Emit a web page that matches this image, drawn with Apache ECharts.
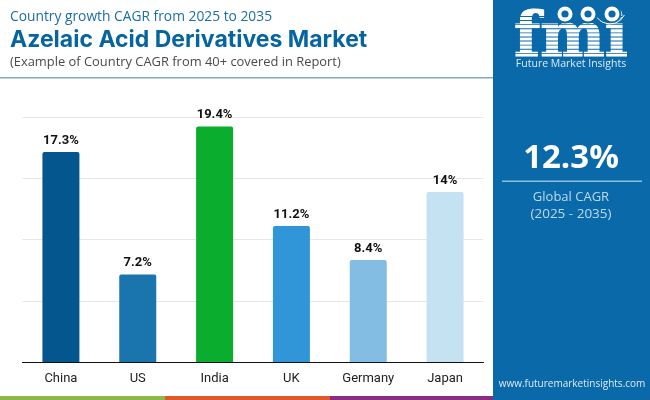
<!DOCTYPE html>
<html><head><meta charset="utf-8">
<style>html,body{margin:0;padding:0;background:#fff}#c{width:650px;height:400px}</style>
<script src="https://cdn.jsdelivr.net/npm/echarts@6/dist/echarts.min.js"></script>
</head><body><div id="c"></div>
<script>
const categories = ['China','US','India','UK','Germany','Japan'];
const values = [17.3,7.2,19.4,11.2,8.4,14];
const labels = ['17.3%','7.2%','19.4%','11.2%','8.4%','14%'];
const barColors = ['#04568f','#1a74ae','#0bad2f','#3096d8','#84bde3','#c5e2f3'];
const chart = echarts.init(document.getElementById('c'),null,{renderer:'canvas'});
const panel='#0a69a8';
const stripes=[];
for(let y=16;y<=55;y+=4.1){stripes.push({type:'rect',z:12,shape:{x:512,y:y,width:120,height:0.9},style:{fill:panel}});}
const circ=(cx)=>[
  {type:'circle',z:13,shape:{cx:cx,cy:14,r:9.5},style:{fill:panel}},
  {type:'circle',z:13,shape:{cx:cx,cy:14,r:7.5},style:{fill:'#fff'}},
  {type:'circle',z:14,shape:{cx:cx,cy:14,r:3.6},style:{fill:panel}}];
chart.setOption({
 animation:false,
 backgroundColor:'#fff',
 grid:{left:22.5,right:166.5,top:117,bottom:38},
 xAxis:{type:'category',data:categories,
   axisTick:{show:false},
   axisLine:{lineStyle:{color:'#111',width:1}},
   axisLabel:{color:'#222',fontFamily:'Roboto',fontSize:13,margin:10}},
 yAxis:{type:'value',min:0,max:20.18,interval:5.045,
   axisLine:{show:false},axisTick:{show:false},axisLabel:{show:false},
   splitLine:{lineStyle:{color:'#e6e6e6',width:1}}},
 series:[{type:'bar',barWidth:37,
   data:values.map((v,i)=>({value:v,itemStyle:{color:barColors[i],borderRadius:[2,2,0,0]},
     label:{formatter:labels[i]}})),
   label:{show:true,position:'top',distance:5,color:'#111',fontFamily:'Roboto',fontWeight:'bold',fontSize:13}}],
 graphic:[
  {type:'rect',shape:{x:0,y:77,width:494,height:1.5},style:{fill:'#7fa9c9'}},
  {type:'rect',shape:{x:493,y:0,width:157,height:400},z:5,style:{fill:panel}},
  {type:'rect',shape:{x:0,y:396,width:165,height:4},style:{fill:'#8cb947'}},
  {type:'rect',shape:{x:165,y:396,width:165,height:4},style:{fill:'#e0592a'}},
  {type:'rect',shape:{x:330,y:396,width:163,height:4},style:{fill:'#8a2c84'}},
  {type:'text',style:{text:'Country growth CAGR from 2025 to 2035',x:10,y:10,fill:'#1a6fa6',font:'13.8px "Open Sans"'}},
  {type:'text',style:{text:'Azelaic Acid Derivatives Market',x:10,y:29,fill:'#06659f',font:'bold 23px Inter'}},
  {type:'text',style:{text:'(Example of Country CAGR from 40+ covered in Report)',x:10,y:56,fill:'#4a4a4a',font:'12.9px "Open Sans"'}},
  {type:'text',z:10,style:{text:'fmi',x:571,y:10,textAlign:'center',fill:'#fff',stroke:'#fff',lineWidth:1.2,font:'bold 61px "DejaVu Serif"'}},
  ...stripes,
  ...circ(565),...circ(588),...circ(612),
  {type:'arc',z:14,shape:{cx:610,cy:8,r:16,startAngle:0.45,endAngle:2.5},style:{fill:null,stroke:'#fff',lineWidth:1}},
  {type:'text',z:15,style:{text:'Future Market Insights',x:571,y:58.5,textAlign:'center',fill:'#dcebf6',font:'10.5px "Open Sans"'}},
  {type:'text',z:13,style:{text:'12.3%',x:571,y:142,textAlign:'center',fill:'#fff',font:'bold 33px "Open Sans"'}},
  {type:'rect',z:13,shape:{x:502,y:180.5,width:140,height:1.5},style:{fill:'#8dbbdc'}},
  {type:'text',z:13,style:{text:'Global CAGR',x:571,y:191,textAlign:'center',fill:'#bcd9ee',font:'13px "Open Sans"'}},
  {type:'text',z:13,style:{text:'(2025 - 2035)',x:571,y:207,textAlign:'center',fill:'#bcd9ee',font:'13.5px "Open Sans"'}},
  {type:'text',z:13,style:{text:'www.futuremarketinsights.com',x:572,y:379,textAlign:'center',fill:'#dcebf6',font:'10px "Open Sans"'}}
 ]
});
</script></body></html>
